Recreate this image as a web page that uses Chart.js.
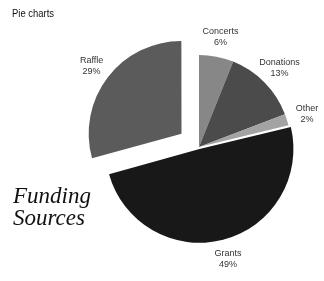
<!DOCTYPE html>
<html>
<head>
<meta charset="utf-8">
<script src="https://cdn.jsdelivr.net/npm/chart.js@4"></script>
<style>
  html, body { margin: 0; padding: 0; background: #fff; }
  #wrap { position: relative; width: 324px; height: 281px; }
</style>
</head>
<body>
<div id="wrap"><canvas id="pieChart" width="324" height="281"></canvas></div>
<script>
const categories = ['Concerts', 'Donations', 'Other', 'Grants', 'Raffle'];
const shares = [6, 13, 2, 49, 29];

// text drawn on top: small header, big italic title, slice labels
const pieText = {
  id: 'pieText',
  afterDraw(chart) {
    const ctx = chart.ctx;
    ctx.save();
    ctx.fillStyle = '#111';
    ctx.textAlign = 'left';
    ctx.textBaseline = 'alphabetic';
    ctx.save();
    ctx.translate(12, 17);
    ctx.scale(0.86, 1);
    ctx.font = '11px "Liberation Sans", sans-serif';
    ctx.fillText('Pie charts', 0, 0);
    ctx.restore();

    ctx.font = 'italic 23px "Liberation Serif", serif';
    ctx.fillText('Funding', 13, 203);
    ctx.fillText('Sources', 13, 225);

    ctx.fillStyle = '#333';
    ctx.textAlign = 'center';
    ctx.textBaseline = 'middle';
    ctx.font = '9px "Liberation Sans", Arial, sans-serif';
    const meta = chart.getDatasetMeta(0);
    const offsets = chart.data.datasets[0].offset;
    meta.data.forEach((arc, i) => {
      const mid = (arc.startAngle + arc.endAngle) / 2;
      // chart.js moves an arc by offset / 4
      const dist = arc.outerRadius + 21 + offsets[i] / 4;
      const x = arc.x + Math.cos(mid) * dist;
      const y = arc.y + Math.sin(mid) * dist;
      ctx.fillText(categories[i], x, y - 5);
      ctx.fillText(shares[i] + '%', x, y + 6);
    });
    ctx.restore();
  }
};

new Chart(document.getElementById('pieChart'), {
  type: 'pie',
  data: {
    labels: categories,
    datasets: [{
      data: shares,
      backgroundColor: ['#878787', '#4b4b4b', '#a3a3a3', '#181818', '#5b5b5b'],
      borderWidth: 0,
      offset: [0, 0, 0, 8, 88]
    }]
  },
  options: {
    responsive: false,
    animation: false,
    radius: 92,
    layout: { padding: { left: 84, right: 10, top: 23, bottom: 10 } },
    plugins: {
      legend: { display: false },
      tooltip: { enabled: false }
    }
  },
  plugins: [pieText]
});
</script>
</body>
</html>
